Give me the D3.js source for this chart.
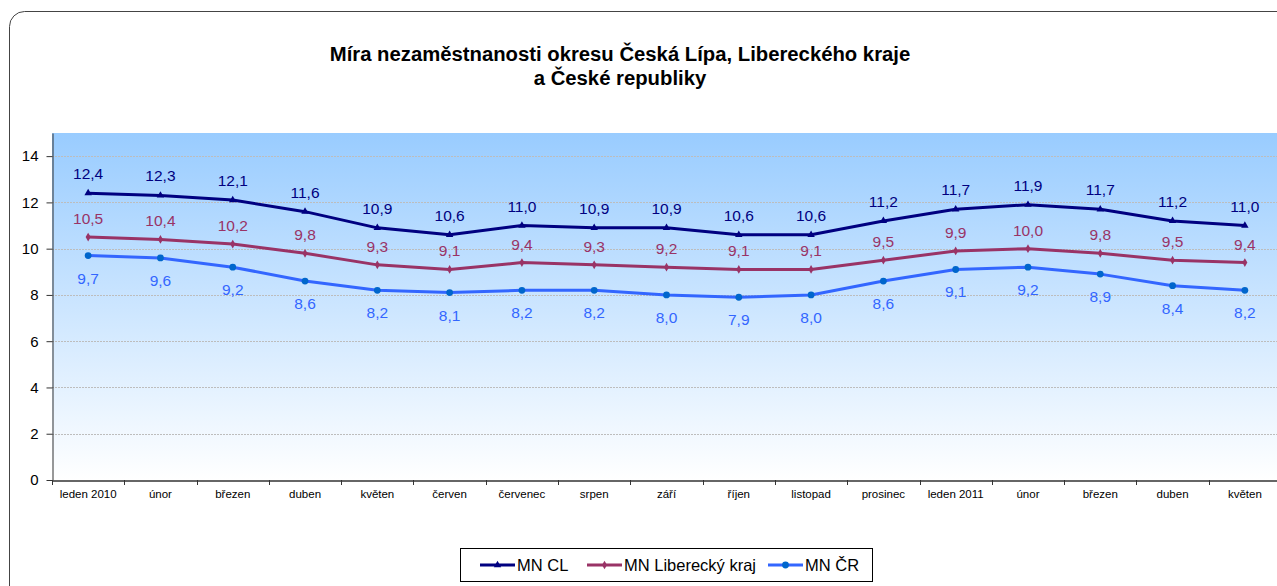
<!DOCTYPE html>
<html>
<head>
<meta charset="utf-8">
<script src="https://cdn.jsdelivr.net/npm/d3@7"></script>
<style>
  body { margin: 0; background: #fff; }
  svg { display: block; font-family: Arial, "Liberation Sans", sans-serif; }
</style>
</head>
<body>
<div id="chart"></div>
<script>
// categories and series (unemployment rate, %)
const months = ["leden 2010", "únor", "březen", "duben", "květen", "červen", "červenec", "srpen",
    "září", "říjen", "listopad", "prosinec", "leden 2011", "únor", "březen", "duben", "květen"];
const mnCL = [12.4, 12.3, 12.1, 11.6, 10.9, 10.6, 11.0, 10.9, 10.9, 10.6, 10.6, 11.2, 11.7, 11.9, 11.7, 11.2, 11.0];
const mnLK = [10.5, 10.4, 10.2, 9.8, 9.3, 9.1, 9.4, 9.3, 9.2, 9.1, 9.1, 9.5, 9.9, 10.0, 9.8, 9.5, 9.4];
const mnCR = [9.7, 9.6, 9.2, 8.6, 8.2, 8.1, 8.2, 8.2, 8.0, 7.9, 8.0, 8.6, 9.1, 9.2, 8.9, 8.4, 8.2];
const yTicks = [0, 2, 4, 6, 8, 10, 12, 14];

const series = [
    { name: "MN CL", values: mnCL, color: "#000080", markColor: "#000080", marker: "triangle", labelDy: -14 },
    { name: "MN Liberecký kraj", values: mnLK, color: "#993366", markColor: "#993366", marker: "diamond", labelDy: -13 },
    { name: "MN ČR", values: mnCR, color: "#3366FF", markColor: "#0066CC", marker: "circle", labelDy: 28 }
];

const W = 1277, H = 586;
const plot = { left: 52, top: 133, right: 1281, bottom: 480 };

const svg = d3.select("#chart").append("svg").attr("width", W).attr("height", H);

// outer frame
svg.append("rect")
    .attr("x", 9.5).attr("y", 11.5)
    .attr("width", 1300).attr("height", 620)
    .attr("rx", 15).attr("ry", 15)
    .attr("fill", "#fff").attr("stroke", "#444").attr("stroke-width", 1);

// title
const title = svg.append("text")
    .attr("text-anchor", "middle")
    .attr("font-weight", "bold")
    .attr("font-size", 20.3)
    .attr("fill", "#000");
title.append("tspan").attr("x", 620).attr("y", 61).text("Míra nezaměstnanosti okresu Česká Lípa, Libereckého kraje");
title.append("tspan").attr("x", 620).attr("y", 85).text("a České republiky");

// month names repeat, so the band scale runs on indices
const idx = months.map((d, i) => i);
const x = d3.scaleBand().domain(idx).range([plot.left, plot.right]);
const y = d3.scaleLinear().domain([0, 15]).range([plot.bottom, plot.top]);

// plot background gradient
const defs = svg.append("defs");
const grad = defs.append("linearGradient").attr("id", "bg").attr("x1", 0).attr("y1", 0).attr("x2", 0).attr("y2", 1);
grad.append("stop").attr("offset", "0%").attr("stop-color", "#99CCFF");
grad.append("stop").attr("offset", "100%").attr("stop-color", "#FFFFFF");
svg.append("rect")
    .attr("x", plot.left).attr("y", plot.top)
    .attr("width", plot.right - plot.left).attr("height", plot.bottom - plot.top)
    .attr("fill", "url(#bg)");

// gridlines
svg.append("g").selectAll("line")
    .data(yTicks.filter(d => d > 0))
    .join("line")
    .attr("x1", plot.left).attr("x2", plot.right)
    .attr("y1", d => Math.round(y(d)) + 0.5).attr("y2", d => Math.round(y(d)) + 0.5)
    .attr("stroke", "#bdbdbd").attr("stroke-width", 1).attr("stroke-dasharray", "2,1");

// axes
const yAxis = svg.append("g")
    .attr("transform", `translate(${plot.left + 0.5},0)`)
    .call(d3.axisLeft(y).tickValues(yTicks).tickSize(6).tickPadding(8).tickSizeOuter(0));
yAxis.select(".domain").attr("stroke", "#333");
yAxis.selectAll("line").attr("stroke", "#333");
yAxis.selectAll("text").attr("font-size", 15).attr("fill", "#000").attr("font-family", "Arial, 'Liberation Sans', sans-serif");

const xAxis = svg.append("g")
    .attr("transform", `translate(0,${plot.bottom + 0.5})`)
    .call(d3.axisBottom(x).tickSize(0).tickPadding(9).tickFormat(i => months[i]));
xAxis.select(".domain").attr("stroke", "#333").attr("stroke-width", 1.5);
xAxis.selectAll("text").attr("font-size", 11.5).attr("fill", "#000").attr("font-family", "Arial, 'Liberation Sans', sans-serif");
// tick marks between categories
svg.append("g").selectAll("line")
    .data(idx)
    .join("line")
    .attr("x1", d => Math.round(x(d)) + 0.5).attr("x2", d => Math.round(x(d)) + 0.5)
    .attr("y1", plot.bottom).attr("y2", plot.bottom + 5)
    .attr("stroke", "#333");

const cx = (d, i) => x(i) + x.bandwidth() / 2;
const line = d3.line().x(cx).y(d => y(d));

function marker(g, type, color) {
    if (type === "triangle") {
        g.append("path").attr("d", d3.symbol(d3.symbolTriangle, 24)()).attr("fill", color);
    } else if (type === "circle") {
        g.append("circle").attr("r", 3.4).attr("fill", color);
    } else {
        g.append("path").attr("d", d3.symbol(d3.symbolDiamond, 22)()).attr("fill", color);
    }
}

series.forEach(s => {
    svg.append("path")
        .datum(s.values)
        .attr("d", line)
        .attr("fill", "none")
        .attr("stroke", s.color)
        .attr("stroke-width", 3)
        .attr("stroke-linejoin", "round");

    s.values.forEach((v, i) => {
        const g = svg.append("g").attr("transform", `translate(${cx(v, i)},${y(v)})`);
        marker(g, s.marker, s.markColor);
    });

    svg.append("g").selectAll("text")
        .data(s.values)
        .join("text")
        .attr("x", cx)
        .attr("y", d => y(d) + s.labelDy)
        .attr("text-anchor", "middle")
        .attr("font-size", 15.5)
        .attr("fill", s.color)
        .text(d => d3.format(".1f")(d).replace(".", ","));
});

// legend
const legend = svg.append("g");
legend.append("rect")
    .attr("x", 460.5).attr("y", 548.5).attr("width", 412).attr("height", 33)
    .attr("fill", "#fff").attr("stroke", "#000").attr("stroke-width", 1);
const legendX = [480, 587, 768];
series.forEach((s, i) => {
    const g = legend.append("g").attr("transform", `translate(${legendX[i]},565)`);
    g.append("line").attr("x1", 0).attr("x2", 35).attr("stroke", s.color).attr("stroke-width", 3);
    const m = g.append("g").attr("transform", "translate(17.5,0)");
    marker(m, s.marker, s.markColor);
    g.append("text").attr("x", 37).attr("y", 6).attr("font-size", 16.5).attr("fill", "#000").text(s.name);
});
</script>
</body>
</html>
